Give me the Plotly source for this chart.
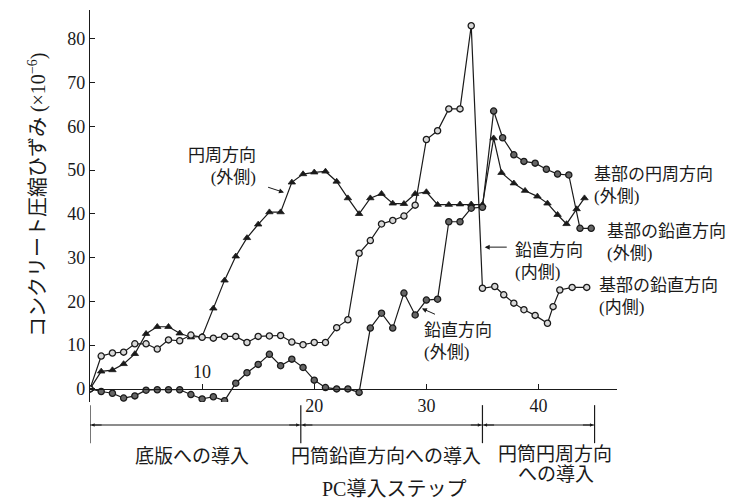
import plotly.graph_objects as go

# ---------------- data ----------------
steps_main = list(range(0, 36))

# 円周方向(外側) -> 基部の円周方向(外側)  (triangles)
circ_x = steps_main + [36.0, 36.7, 37.8, 38.8, 39.9, 40.8, 41.7, 42.5, 43.4, 44.1]
circ_y = [0, 4.0, 4.3, 5.7, 8.0, 12.6, 14.2, 14.2, 12.7, 11.8,
          12.0, 18.4, 24.8, 30.3, 34.5, 37.6, 40.4, 40.4, 47.2, 49.1,
          49.5, 49.7, 47.4, 43.6, 40.0, 43.6, 44.6, 42.4, 42.3, 44.6,
          45.0, 42.1, 42.1, 42.2, 42.2, 42.1,
          57.3, 49.4, 47.0, 45.3, 44.0, 42.4, 39.8, 37.7, 41.1, 43.6]

# 鉛直方向(内側) -> 基部の鉛直方向(内側)  (open circles)
vin_x = steps_main + [36.1, 36.9, 37.8, 38.7, 39.7, 40.8, 41.3, 41.9, 43.0, 44.3]
vin_y = [0, 7.5, 8.2, 8.4, 10.3, 10.3, 9.1, 11.2, 11.0, 12.3,
         11.8, 11.6, 12.0, 12.0, 10.6, 12.0, 12.1, 12.2, 10.7, 10.1,
         10.6, 10.6, 14.0, 15.8, 31.0, 33.9, 37.7, 38.5, 39.5, 42.0,
         57.0, 59.0, 64.0, 64.0, 83.0, 23.0,
         23.4, 21.5, 19.6, 18.1, 16.8, 15.0, 18.8, 22.6, 23.2, 23.2]

# 鉛直方向(外側) -> 基部の鉛直方向(外側)  (filled circles)
vout_x = steps_main + [36.0, 36.8, 37.8, 38.7, 39.7, 40.7, 41.7, 42.7, 43.7, 44.7]
vout_y = [0, -0.6, -1.0, -2.1, -1.6, -0.3, -0.2, -0.2, -0.2, -1.3,
          -2.3, -1.8, -2.7, 1.3, 3.7, 5.6, 7.9, 5.3, 6.8, 4.9,
          2.0, 0.3, 0.0, 0.0, -0.8, 13.9, 17.3, 13.9, 21.9, 16.9,
          20.3, 20.5, 38.2, 38.2, 41.3, 41.5,
          63.5, 57.4, 53.5, 52.0, 51.6, 50.2, 49.1, 48.9, 36.7, 36.7]

y_ticks = [0, 10, 20, 30, 40, 50, 60, 70, 80]
x_ticks = [10, 20, 30, 40]
x_tick_labels = ["10", "20", "30", "40"]

stage_bounds = [0, 18.8, 35, 45]
stage_names = ["底版への導入", "円筒鉛直方向への導入", "円筒円周方向<br>への導入"]

# ---------------- style ----------------
CJK = "Liberation Serif, Noto Sans CJK JP"
NUM = "Liberation Serif, Noto Sans CJK JP"
INK = "#1a1a1a"

fig = go.Figure()

line_style = dict(color=INK, width=1.2)
fig.add_trace(go.Scatter(
    x=circ_x, y=circ_y, mode="lines+markers", line=line_style,
    marker=dict(symbol="triangle-up", size=6.5, color=INK,
                line=dict(color=INK, width=0.8)),
    showlegend=False))
fig.add_trace(go.Scatter(
    x=vout_x, y=vout_y, mode="lines+markers", line=line_style,
    marker=dict(symbol="circle", size=6.2, color="#666",
                line=dict(color=INK, width=1.3)),
    showlegend=False))
fig.add_trace(go.Scatter(
    x=vin_x, y=vin_y, mode="lines+markers", line=line_style,
    marker=dict(symbol="circle", size=6.2, color="#d8d8d8",
                line=dict(color=INK, width=1.3)),
    showlegend=False))

y_lo, y_hi = -3, 86.6
x_lo, x_hi = 0, 47

annotations = []

# in-plot labels (two lines each)
def lab(text, x, y, anchor="left", size=17):
    annotations.append(dict(text=text, x=x, y=y, xref="x", yref="y",
                            xanchor=anchor, yanchor="middle", align=anchor,
                            showarrow=False,
                            font=dict(family=CJK, size=size, color=INK)))

lab("円周方向<br>(外側)", 15.0, 50.9, "right")
lab("鉛直方向<br>(外側)", 29.6, 10.8)
lab("鉛直方向<br>(内側)", 37.7, 29.2)
lab("基部の円周方向<br>(外側)", 44.8, 46.4)
lab("基部の鉛直方向<br>(外側)", 45.95, 33.5)
lab("基部の鉛直方向<br>(内側)", 45.2, 21.2)

# pointer arrows
for hx, hy, tx, ty in [(17.3, 44.9, 15.75, 46.2),
                       (29.6, 18.4, 30.9, 16.9),
                       (35.2, 32.4, 37.3, 32.4)]:
    annotations.append(dict(text="", x=hx, y=hy, ax=tx, ay=ty,
                            xref="x", yref="y", axref="x", ayref="y",
                            showarrow=True, arrowhead=2, arrowsize=1,
                            arrowwidth=1, arrowcolor=INK))

# the "10" tick label sits above the axis
annotations.append(dict(text=x_tick_labels[0], x=x_ticks[0], y=3.9, xref="x", yref="y",
                        showarrow=False, font=dict(family=NUM, size=18, color=INK)))

# stage bracket
br_y = -0.0587
shapes = [dict(type="line", xref="x", yref="paper", x0=stage_bounds[0], x1=stage_bounds[-1],
               y0=br_y, y1=br_y, line=dict(color=INK, width=1.2))]
for b in stage_bounds:
    shapes.append(dict(type="line", xref="x", yref="paper", x0=b, x1=b,
                       y0=-0.008, y1=-0.105, line=dict(color=INK, width=1.2)))
for a, b in zip(stage_bounds[:-1], stage_bounds[1:]):
    annotations.append(dict(text="", x=b - 0.1, y=br_y, xref="x", yref="paper",
                            ax=-12, ay=0, showarrow=True, arrowhead=2,
                            arrowsize=0.7, arrowwidth=1, arrowcolor=INK))
    annotations.append(dict(text="", x=a + 0.1, y=br_y, xref="x", yref="paper",
                            ax=12, ay=0, showarrow=True, arrowhead=2,
                            arrowsize=0.7, arrowwidth=1, arrowcolor=INK))

def blab(text, x, y, size=19, fam=CJK):
    annotations.append(dict(text=text, x=x, y=y, xref="x", yref="paper",
                            xanchor="center", yanchor="middle", showarrow=False,
                            font=dict(family=fam, size=size, color=INK)))

blab(stage_names[0], 9.1, -0.138)
blab(stage_names[1], 26.4, -0.138)
s3a, s3b = stage_names[2].split("<br>")
blab(s3a, 41.5, -0.133)
blab(s3b, 41.6, -0.186)
blab("PC導入ステップ", 27.1, -0.222, size=20, fam=NUM)

# y title
annotations.append(dict(text="コンクリート圧縮ひずみ (×10<sup>−6</sup>)",
                        x=-0.128, y=0.528, xref="paper", yref="paper",
                        textangle=-90, showarrow=False,
                        font=dict(family=NUM, size=20, color=INK)))

# the page body has an 8px margin; the figure is sized to fill the rest
fig.update_layout(
    width=744, height=495,
    margin=dict(l=82, r=135, t=2, b=101),
    paper_bgcolor="white", plot_bgcolor="white",
    xaxis=dict(range=[x_lo, x_hi], anchor="free",
               position=(0 - y_lo) / (y_hi - y_lo),
               showline=True, linecolor=INK, linewidth=1.3,
               ticks="inside", ticklen=5, tickwidth=1.2, tickcolor=INK,
               tickvals=x_ticks[1:], ticktext=x_tick_labels[1:],
               minor=dict(tickvals=x_ticks[:1], ticks="inside", ticklen=5,
                          tickwidth=1.2, tickcolor=INK, showgrid=False),
               tickfont=dict(family=NUM, size=18, color=INK),
               ticklabelstandoff=0,
               showgrid=False, zeroline=False),
    yaxis=dict(range=[y_lo, y_hi],
               showline=True, linecolor=INK, linewidth=1.3,
               ticks="inside", ticklen=5, tickwidth=1.2, tickcolor=INK,
               tickvals=y_ticks,
               tickfont=dict(family=NUM, size=18, color=INK),
               showgrid=False, zeroline=False),
    annotations=annotations,
    shapes=shapes,
)

fig.write_html("out.html")
